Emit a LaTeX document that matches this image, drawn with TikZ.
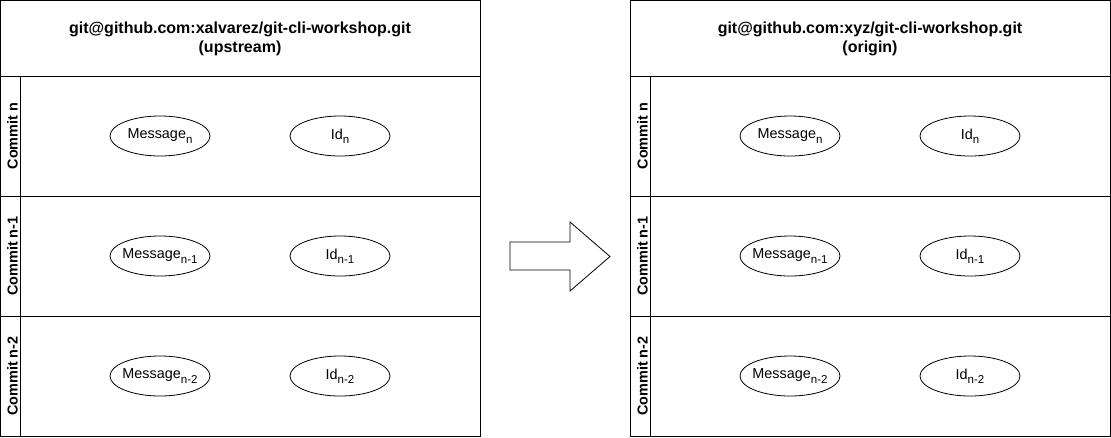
\documentclass[tikz,border=0pt]{standalone}
\usepackage{fontspec}
\setmainfont{Liberation Sans}
\usetikzlibrary{shapes.geometric}
\begin{document}
\begin{tikzpicture}[x=1pt,y=-1pt,
  frame/.style={draw=black, line width=1pt},
  ell/.style={draw=black, line width=0.8pt, ellipse, minimum width=100pt, minimum height=40pt, inner sep=0pt, font=\fontsize{14.4}{16}\selectfont},
  lanelabel/.style={rotate=90, inner sep=0pt, font=\bfseries\fontsize{14.4}{16}\selectfont},
  headtext/.style={align=center, inner sep=0pt, font=\bfseries\fontsize{16}{18}\selectfont},
  bigarrow/.style={draw=black, line width=0.8pt, fill=white, line join=miter}]
\useasboundingbox (0,0) rectangle (1111,437);
\newcommand{\sub}[1]{\raisebox{-0.3em}{\fontsize{11.5}{12}\selectfont #1}}
\newcommand{\etext}[1]{\makebox[0pt][c]{#1}}
\foreach \ox/\name/\role in {0/xalvarez/upstream, 630/xyz/origin} {
  \draw[frame] (\ox+0.5,0.5) rectangle (\ox+480,436);
  \draw[frame] (\ox+0.5,76) -- (\ox+480,76);
  \draw[frame] (\ox+0.5,196) -- (\ox+480,196);
  \draw[frame] (\ox+0.5,316) -- (\ox+480,316);
  \draw[frame] (\ox+20,76) -- (\ox+20,436);
  \node[headtext] (h\role) at (\ox+240,39) {git@github.com:\name/git-cli-workshop.git\\[1pt](\role)};
  \node[lanelabel] (la\role) at (\ox+12.5,136) {Commit n};
  \node[lanelabel] (lb\role) at (\ox+12.5,256) {Commit n-1};
  \node[lanelabel] (lc\role) at (\ox+12.5,376) {Commit n-2};
  \node[ell] (ma\role) at (\ox+160,136) {\etext{Message\sub{n}}};
  \node[ell] (ia\role) at (\ox+340,136) {\etext{Id\sub{n}}};
  \node[ell] (mb\role) at (\ox+160,256) {\etext{Message\sub{n-1}}};
  \node[ell] (ib\role) at (\ox+340,256) {\etext{Id\sub{n-1}}};
  \node[ell] (mc\role) at (\ox+160,376) {\etext{Message\sub{n-2}}};
  \node[ell] (ic\role) at (\ox+340,376) {\etext{Id\sub{n-2}}};
}
\draw[bigarrow] (510,242) -- (570,242) -- (570,222) -- (610,256.5) -- (570,291) -- (570,270) -- (510,270) -- cycle;
\end{tikzpicture}
\end{document}
